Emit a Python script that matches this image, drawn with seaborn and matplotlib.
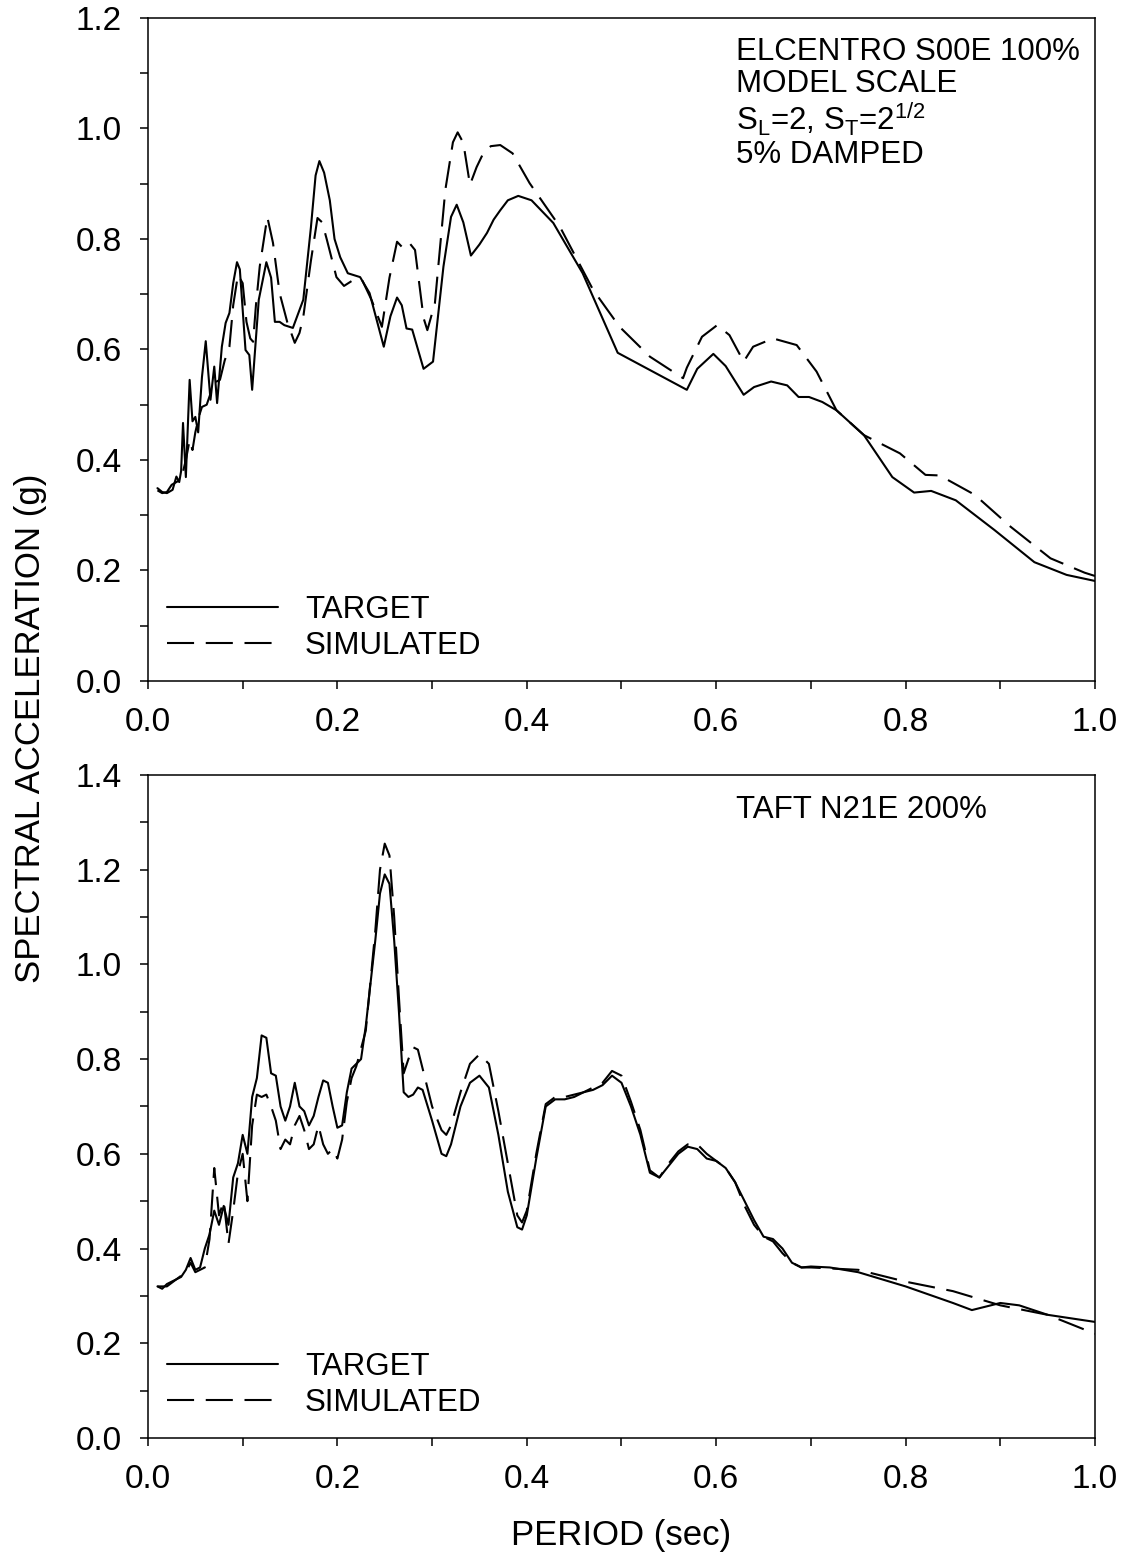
import numpy as np
import pandas as pd
import seaborn as sns
import matplotlib
matplotlib.use("Agg")
import matplotlib.pyplot as plt
from matplotlib.ticker import MultipleLocator

# ---- El Centro S00E 100% (model scale), 5% damped ----
elc_target_T = [0.010, 0.015, 0.020, 0.026, 0.030, 0.033, 0.035, 0.037, 0.040, 0.044,
                0.047, 0.050, 0.053, 0.057, 0.061, 0.066, 0.070, 0.073, 0.078, 0.082,
                0.086, 0.090, 0.094, 0.097, 0.103, 0.107, 0.110, 0.117, 0.125, 0.130,
                0.134, 0.139, 0.144, 0.153, 0.164, 0.172, 0.177, 0.181, 0.186, 0.192, 0.197,
                0.203, 0.211, 0.224, 0.234, 0.249, 0.256, 0.263, 0.268, 0.273, 0.279,
                0.291, 0.301, 0.312, 0.320, 0.326, 0.333, 0.341, 0.350, 0.358, 0.365,
                0.372, 0.380, 0.391, 0.405, 0.428, 0.459, 0.496, 0.569, 0.580, 0.597,
                0.610, 0.629, 0.640, 0.658, 0.675, 0.687, 0.698, 0.712, 0.727, 0.756,
                0.786, 0.809, 0.827, 0.853, 0.894, 0.936, 0.970, 1.000]
elc_target_Sa = [0.349, 0.342, 0.340, 0.346, 0.370, 0.360, 0.380, 0.467, 0.369, 0.545,
                 0.470, 0.478, 0.450, 0.550, 0.615, 0.509, 0.569, 0.503, 0.605, 0.648,
                 0.666, 0.720, 0.758, 0.745, 0.599, 0.590, 0.527, 0.690, 0.758, 0.730,
                 0.650, 0.650, 0.644, 0.639, 0.690, 0.820, 0.915, 0.941, 0.920, 0.870, 0.800,
                 0.767, 0.738, 0.731, 0.702, 0.605, 0.660, 0.694, 0.680, 0.638, 0.636,
                 0.565, 0.578, 0.750, 0.840, 0.862, 0.830, 0.770, 0.790, 0.811, 0.835,
                 0.852, 0.870, 0.878, 0.870, 0.829, 0.738, 0.594, 0.527, 0.565, 0.592,
                 0.570, 0.518, 0.532, 0.542, 0.535, 0.514, 0.514, 0.505, 0.490, 0.445,
                 0.369, 0.341, 0.344, 0.327, 0.273, 0.215, 0.192, 0.181]

elc_sim_T = [0.010, 0.015, 0.020, 0.025, 0.030, 0.035, 0.040, 0.044, 0.047, 0.050,
             0.054, 0.057, 0.062, 0.066, 0.070, 0.076, 0.081, 0.086, 0.090, 0.095,
             0.100, 0.104, 0.108, 0.111, 0.114, 0.118, 0.126, 0.132, 0.139, 0.147,
             0.155, 0.160, 0.164, 0.172, 0.179, 0.184, 0.189, 0.199, 0.207, 0.217,
             0.226, 0.236, 0.247, 0.255, 0.263, 0.268, 0.275, 0.282, 0.291, 0.295,
             0.303, 0.314, 0.322, 0.327, 0.333, 0.340, 0.347, 0.354, 0.362, 0.372,
             0.385, 0.403, 0.435, 0.470, 0.498, 0.530, 0.565, 0.569, 0.585, 0.601,
             0.614, 0.629, 0.639, 0.660, 0.685, 0.706, 0.727, 0.756, 0.794, 0.821,
             0.836, 0.873, 0.911, 0.953, 0.989, 1.000]
elc_sim_Sa = [0.345, 0.340, 0.342, 0.355, 0.360, 0.365, 0.400, 0.436, 0.418, 0.450,
              0.480, 0.496, 0.500, 0.520, 0.540, 0.545, 0.580, 0.605, 0.680, 0.735,
              0.720, 0.650, 0.620, 0.614, 0.680, 0.750, 0.840, 0.793, 0.702, 0.650,
              0.612, 0.630, 0.659, 0.760, 0.838, 0.830, 0.798, 0.731, 0.715, 0.726,
              0.726, 0.690, 0.641, 0.730, 0.795, 0.786, 0.795, 0.780, 0.657, 0.635,
              0.684, 0.889, 0.975, 0.993, 0.974, 0.898, 0.930, 0.955, 0.968, 0.970,
              0.955, 0.901, 0.822, 0.708, 0.641, 0.587, 0.548, 0.567, 0.623, 0.644,
              0.626, 0.578, 0.605, 0.620, 0.608, 0.560, 0.490, 0.445, 0.412, 0.373,
              0.372, 0.337, 0.279, 0.222, 0.196, 0.190]

# ---- Taft N21E 200% ----
taft_target_T = [0.010, 0.015, 0.020, 0.025, 0.030, 0.035, 0.040, 0.045, 0.050, 0.055,
                 0.060, 0.065, 0.070, 0.075, 0.080, 0.085, 0.090, 0.095, 0.100, 0.105,
                 0.110, 0.115, 0.120, 0.125, 0.130, 0.135, 0.140, 0.145, 0.150, 0.155,
                 0.160, 0.165, 0.170, 0.175, 0.180, 0.185, 0.190, 0.195, 0.200, 0.205,
                 0.210, 0.215, 0.220, 0.225, 0.230, 0.235, 0.240, 0.245, 0.250, 0.255,
                 0.260, 0.265, 0.270, 0.275, 0.280, 0.285, 0.290, 0.300, 0.310, 0.315,
                 0.320, 0.330, 0.340, 0.350, 0.360, 0.370, 0.380, 0.390, 0.395, 0.400,
                 0.410, 0.420, 0.430, 0.440, 0.450, 0.460, 0.470, 0.480, 0.490, 0.500,
                 0.510, 0.520, 0.530, 0.540, 0.550, 0.560, 0.570, 0.580, 0.590, 0.600,
                 0.610, 0.620, 0.630, 0.640, 0.650, 0.660, 0.670, 0.680, 0.690, 0.700,
                 0.720, 0.750, 0.800, 0.850, 0.870, 0.880, 0.900, 0.920, 0.950, 1.000]
taft_target_Sa = [0.320, 0.315, 0.325, 0.330, 0.335, 0.340, 0.355, 0.380, 0.355, 0.360,
                  0.400, 0.430, 0.480, 0.450, 0.490, 0.450, 0.550, 0.580, 0.640, 0.600,
                  0.720, 0.760, 0.850, 0.845, 0.770, 0.765, 0.700, 0.670, 0.700, 0.750,
                  0.700, 0.690, 0.660, 0.680, 0.720, 0.755, 0.750, 0.700, 0.655, 0.660,
                  0.730, 0.780, 0.790, 0.800, 0.870, 0.960, 1.050, 1.150, 1.190, 1.170,
                  1.050, 0.900, 0.730, 0.720, 0.725, 0.740, 0.735, 0.670, 0.600, 0.595,
                  0.620, 0.700, 0.750, 0.765, 0.740, 0.640, 0.520, 0.445, 0.440, 0.470,
                  0.590, 0.700, 0.715, 0.715, 0.720, 0.730, 0.735, 0.745, 0.765, 0.750,
                  0.700, 0.640, 0.560, 0.550, 0.575, 0.600, 0.615, 0.610, 0.590, 0.585,
                  0.570, 0.540, 0.500, 0.460, 0.425, 0.420, 0.400, 0.370, 0.360, 0.362,
                  0.360, 0.350, 0.320, 0.285, 0.270, 0.275, 0.285, 0.280, 0.260, 0.245]

taft_sim_T = [0.010, 0.020, 0.030, 0.040, 0.045, 0.050, 0.060, 0.065, 0.070, 0.075,
              0.080, 0.085, 0.090, 0.095, 0.100, 0.105, 0.110, 0.115, 0.120, 0.125,
              0.130, 0.135, 0.140, 0.145, 0.150, 0.155, 0.160, 0.165, 0.170, 0.175,
              0.180, 0.185, 0.190, 0.195, 0.200, 0.205, 0.210, 0.215, 0.220, 0.230,
              0.240, 0.245, 0.250, 0.255, 0.260, 0.265, 0.270, 0.275, 0.280, 0.285,
              0.290, 0.300, 0.310, 0.315, 0.320, 0.330, 0.340, 0.350, 0.360, 0.370,
              0.380, 0.390, 0.395, 0.400, 0.410, 0.420, 0.430, 0.440, 0.450, 0.460,
              0.470, 0.480, 0.490, 0.500, 0.510, 0.520, 0.530, 0.540, 0.550, 0.560,
              0.570, 0.580, 0.590, 0.600, 0.610, 0.620, 0.630, 0.640, 0.650, 0.660,
              0.670, 0.680, 0.690, 0.700, 0.750, 0.800, 0.850, 0.900, 0.950, 1.000]
taft_sim_Sa = [0.320, 0.320, 0.335, 0.350, 0.370, 0.350, 0.360, 0.420, 0.570, 0.470,
               0.500, 0.410, 0.480, 0.560, 0.600, 0.500, 0.660, 0.725, 0.720, 0.725,
               0.700, 0.670, 0.610, 0.630, 0.620, 0.660, 0.680, 0.650, 0.610, 0.620,
               0.660, 0.620, 0.600, 0.610, 0.590, 0.630, 0.710, 0.760, 0.785, 0.860,
               1.070, 1.200, 1.255, 1.230, 1.100, 0.930, 0.770, 0.800, 0.825, 0.820,
               0.780, 0.700, 0.650, 0.640, 0.660, 0.730, 0.790, 0.810, 0.790, 0.690,
               0.580, 0.470, 0.455, 0.480, 0.600, 0.705, 0.720, 0.720, 0.725, 0.730,
               0.740, 0.750, 0.775, 0.765, 0.710, 0.650, 0.565, 0.550, 0.580, 0.605,
               0.620, 0.620, 0.600, 0.585, 0.570, 0.540, 0.490, 0.450, 0.425, 0.415,
               0.390, 0.370, 0.360, 0.360, 0.355, 0.330, 0.310, 0.280, 0.260, 0.220]

panel_notes = ["ELCENTRO S00E 100%\nMODEL SCALE\nS$_L$=2, S$_T$=2$^{1/2}$\n5% DAMPED",
               "TAFT N21E 200%"]
series_names = ["TARGET", "SIMULATED"]
y_limits = [1.2, 1.4]

sns.set_style("ticks")
plt.rcParams["font.family"] = ["Liberation Sans", "DejaVu Sans"]
plt.rcParams["mathtext.fontset"] = "custom"
plt.rcParams["mathtext.rm"] = "Liberation Sans"
plt.rcParams["mathtext.default"] = "regular"
for key in ["text.color", "axes.labelcolor", "xtick.color", "ytick.color",
            "axes.edgecolor", "xtick.labelcolor", "ytick.labelcolor"]:
    plt.rcParams[key] = "black"

fig = plt.figure(figsize=(11.27, 15.64), dpi=100)
ax_top = fig.add_axes([0.1313, 0.5646, 0.8403, 0.4239])
ax_bot = fig.add_axes([0.1313, 0.0806, 0.8403, 0.4239])

dash_style = (0, (13.0, 5.6))
FS = 22.5

panels = [
    (ax_top, elc_target_T, elc_target_Sa, elc_sim_T, elc_sim_Sa),
    (ax_bot, taft_target_T, taft_target_Sa, taft_sim_T, taft_sim_Sa),
]

for i, (ax, tT, tS, sT, sS) in enumerate(panels):
    df_t = pd.DataFrame({"T": tT, "Sa": tS})
    df_s = pd.DataFrame({"T": sT, "Sa": sS})
    sns.lineplot(data=df_t, x="T", y="Sa", ax=ax, color="black", lw=1.5,
                 estimator=None, sort=False, label=series_names[0])
    sns.lineplot(data=df_s, x="T", y="Sa", ax=ax, color="black", lw=1.5,
                 estimator=None, sort=False, linestyle=dash_style,
                 label=series_names[1])

    ax.set_xlim(0, 1.0)
    ax.set_ylim(0, y_limits[i])
    ax.xaxis.set_major_locator(MultipleLocator(0.2))
    ax.xaxis.set_minor_locator(MultipleLocator(0.1))
    ax.yaxis.set_major_locator(MultipleLocator(0.2))
    ax.yaxis.set_minor_locator(MultipleLocator(0.1))
    ax.xaxis.set_major_formatter(lambda v, p: f"{v:.1f}")
    ax.yaxis.set_major_formatter(lambda v, p: f"{v:.1f}")
    ax.tick_params(which="both", direction="out", length=6, width=1.1,
                   color="black", top=False, right=False)
    ax.tick_params(which="major", labelsize=24, pad=13)
    for sp in ax.spines.values():
        sp.set_visible(True)
        sp.set_linewidth(1.1)
        sp.set_color("black")
    ax.set_xlabel("")
    ax.set_ylabel("")

    ax.text(0.621, 0.971 if i == 0 else 0.970, panel_notes[i], transform=ax.transAxes,
            ha="left", va="top", fontsize=FS, linespacing=1.07, color="black")

    leg = ax.legend(loc="lower left", bbox_to_anchor=(0.02, 0.03), frameon=False,
                    fontsize=FS, handlelength=3.55, handletextpad=0.87,
                    labelspacing=0.2, borderaxespad=0, borderpad=0)
    for txt in leg.get_texts():
        txt.set_color("black")

fig.text(0.027, 0.5345, "SPECTRAL ACCELERATION (g)", rotation=90,
         ha="center", va="center", fontsize=25, color="black")
fig.text(0.5514, 0.018, "PERIOD (sec)", ha="center", va="center", fontsize=25,
         color="black")

fig.savefig("out.png", dpi=100, facecolor="white")
